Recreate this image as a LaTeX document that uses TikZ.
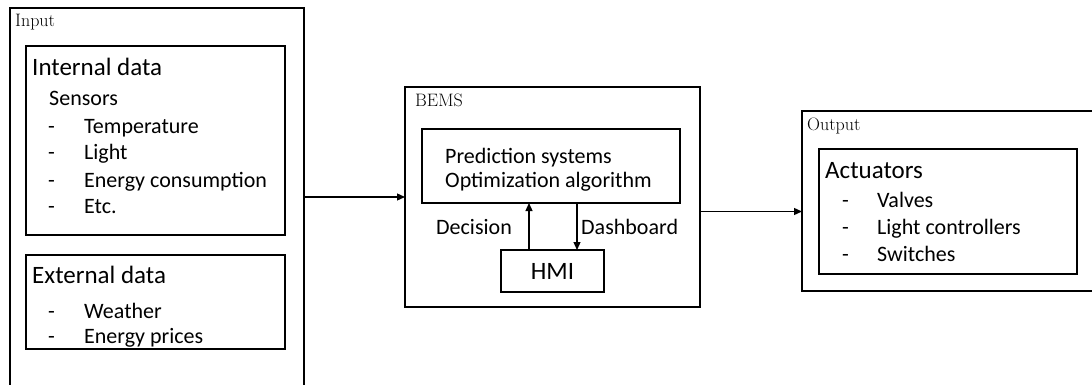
\documentclass[tikz,border=0pt]{standalone}
\usepackage{fontspec}
\newfontfamily\carl{Carlito}
\usetikzlibrary{arrows.meta}
\begin{document}
\begin{tikzpicture}[x=1pt,y=-1pt,
  box/.style={draw,line width=1.3pt,rectangle,inner sep=0pt,outer sep=0pt},
  lbl/.style={anchor=base west,inner sep=0pt,font=\fontsize{18}{21}\selectfont},
  head/.style={anchor=base west,inner sep=0pt,font=\carl\fontsize{25}{30}\selectfont},
  item/.style={anchor=base west,inner sep=0pt,font=\carl\fontsize{22}{26}\selectfont},
  arr/.style={line width=1.3pt,-{Triangle[length=8pt,width=7pt]}}]
\useasboundingbox (0,0) rectangle (1092,385);
\clip (0,0) rectangle (1092,385);
% containers
\node[box,minimum width=294pt,minimum height=400pt] (input) at (157,208) {};
\node[box,minimum width=259pt,minimum height=189pt] (internal) at (155.5,140.5) {};
\node[box,minimum width=259pt,minimum height=94pt] (external) at (155.5,302) {};
\node[box,minimum width=295pt,minimum height=220pt] (bems) at (552.5,197) {};
\node[box,minimum width=258pt,minimum height=74pt] (pred) at (551,166) {};
\node[box,minimum width=103pt,minimum height=42pt] (hmi) at (552.5,271) {};
\node[box,minimum width=308pt,minimum height=180pt] (output) at (956,201) {};
\node[box,minimum width=258pt,minimum height=125pt] (act) at (948,211.5) {};
% input texts
\node[lbl] (tin) at (15,27) {Input};
\node[head] (tint) at (32,76) {Internal data};
\node[item] (tsens) at (49,106) {Sensors};
\node[item] (d1) at (48,134) {-};
\node[item] (t1) at (84,134) {Temperature};
\node[item] (d2) at (48,160) {-};
\node[item] (t2) at (84,160) {Light};
\node[item] (d3) at (48,187) {-};
\node[item] (t3) at (84,187) {Energy consumption};
\node[item] (d4) at (48,213) {-};
\node[item] (t4) at (84,213) {Etc.};
\node[head] (text) at (32,283) {External data};
\node[item] (d5) at (48,318) {-};
\node[item] (t5) at (84,318) {Weather};
\node[item] (d6) at (48,343) {-};
\node[item] (t6) at (84,343) {Energy prices};
% BEMS texts
\node[lbl] (tbems) at (415,107) {BEMS};
\node[item] (tpred) at (445,163) {Prediction systems};
\node[item] (topt) at (445,187) {Optimization algorithm};
\node[item] (tdec) at (436,234) {Decision};
\node[item] (tdash) at (581,234) {Dashboard};
\node[inner sep=0pt,font=\carl\fontsize{25}{30}\selectfont] (thmi) at (hmi.center) {HMI};
% output texts
\node[lbl] (tout) at (807,131) {Output};
\node[head] (tact) at (825,178) {Actuators};
\node[item] (d7) at (842,207) {-};
\node[item] (t7) at (877,207) {Valves};
\node[item] (d8) at (842,234) {-};
\node[item] (t8) at (877,234) {Light controllers};
\node[item] (d9) at (842,261) {-};
\node[item] (t9) at (877,261) {Switches};
% connectors
\draw[arr] (input.east |- bems.west) -- (bems.west);
\draw[arr] (bems.east |- act.center) -- (output.west |- act.center);
\draw[arr] ([xshift=-23.5pt]hmi.north) -- ([xshift=-23.5pt]hmi.north |- pred.south);
\draw[arr] ([xshift=24.5pt]hmi.north |- pred.south) -- ([xshift=24.5pt]hmi.north);
\end{tikzpicture}
\end{document}
